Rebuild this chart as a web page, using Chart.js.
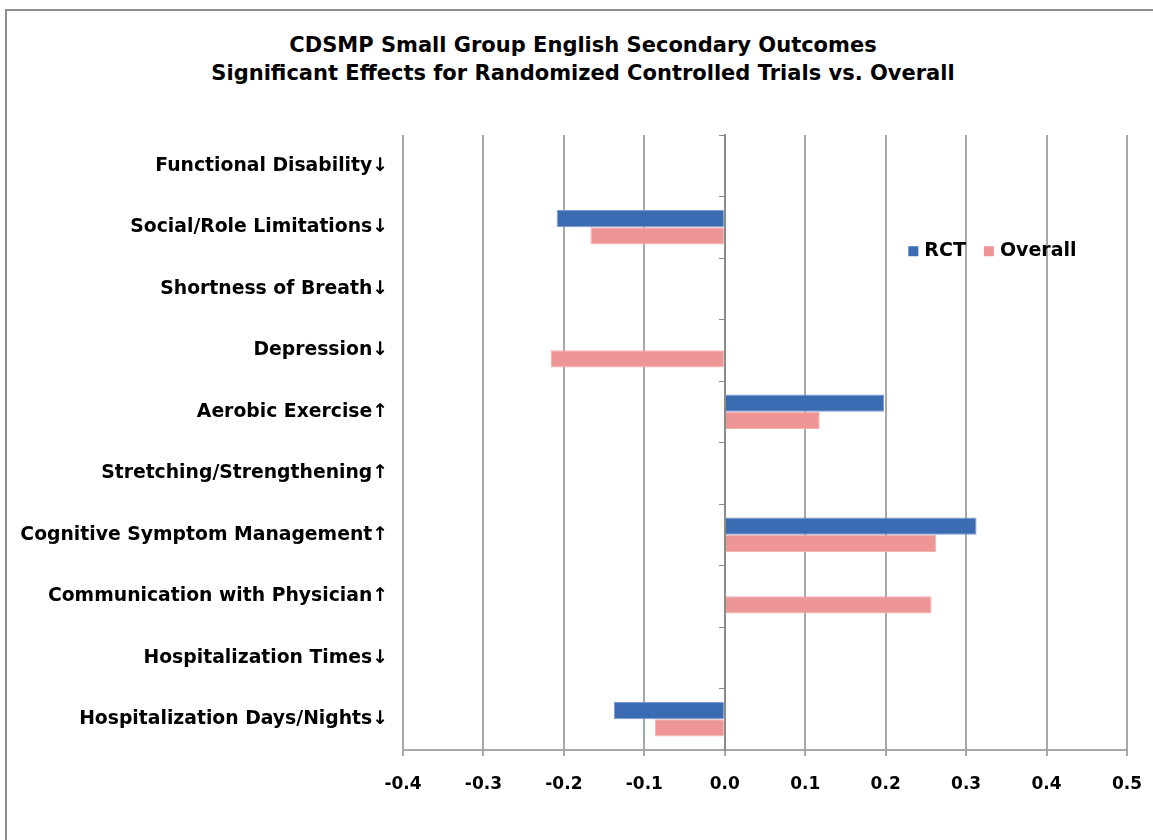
<!DOCTYPE html>
<html>
<head>
<meta charset="utf-8">
<script src="https://cdn.jsdelivr.net/npm/chart.js@4"></script>
<style>
	body { margin: 0; background: #fff; }
	#wrap { position: relative; width: 1153px; height: 840px; overflow: hidden; }
	#frame {
		position: absolute; left: 5px; top: 9px; width: 1200px; height: 900px;
		border-left: 2px solid #8c8c8c; border-top: 2px solid #8c8c8c;
	}
	#title {
		position: absolute; left: 0; top: 31px; width: 1166px;
		text-align: center; font: bold 21px/28px 'DejaVu Sans', sans-serif; color: #000;
		white-space: nowrap;
	}
	canvas { position: absolute; left: 0; top: 0; }
</style>
</head>
<body>
<div id="wrap">
	<div id="frame"></div>
	<div id="title">CDSMP Small Group English Secondary Outcomes<br>Significant Effects for Randomized Controlled Trials vs. Overall</div>
	<canvas id="chart" width="1153" height="840"></canvas>
</div>
<script>
// Outcomes, top to bottom as in the chart
const categories = [
	"Functional Disability\u2193",
	"Social/Role Limitations\u2193",
	"Shortness of Breath\u2193",
	"Depression\u2193",
	"Aerobic Exercise\u2191",
	"Stretching/Strengthening\u2191",
	"Cognitive Symptom Management\u2191",
	"Communication with Physician\u2191",
	"Hospitalization Times\u2193",
	"Hospitalization Days/Nights\u2193",
];

// Effect sizes (null = not significant)
const rctValues = [null, -0.209, null, null, 0.198, null, 0.313, null, null, -0.138];
const overallValues = [null, -0.167, null, -0.216, 0.118, null, 0.263, 0.257, null, -0.087];

const xTicks = [-0.4, -0.3, -0.2, -0.1, 0.0, 0.1, 0.2, 0.3, 0.4, 0.5];

const FONT = "'DejaVu Sans', sans-serif";
const GRID = "#a8a8a8";

// Legend drawn inside the plot area, like the original
const insideLegend = {
	id: "insideLegend",
	afterDraw(chart) {
		const { ctx, chartArea } = chart;
		let x = chartArea.left + chartArea.width * 0.698;
		const y = chartArea.top + chartArea.height * 0.189;
		ctx.save();
		ctx.font = "bold 19px " + FONT;
		ctx.textBaseline = "middle";
		chart.data.datasets.forEach((ds) => {
			ctx.fillStyle = ds.backgroundColor;
			ctx.fillRect(x, y - 5, 10, 10);
			ctx.fillStyle = "#000";
			ctx.fillText(ds.label, x + 16, y);
			x += 16 + ctx.measureText(ds.label).width + 18;
		});
		ctx.restore();
	},
};

new Chart(document.getElementById("chart"), {
	type: "bar",
	data: {
		labels: categories,
		datasets: [
			{
				label: "RCT",
				data: rctValues,
				backgroundColor: "#3a6bb3",
				borderColor: "#7b9bd0",
				borderWidth: 1,
			},
			{
				label: "Overall",
				data: overallValues,
				backgroundColor: "#ee9596",
				borderColor: "#f3b0b0",
				borderWidth: 1,
			},
		],
	},
	options: {
		indexAxis: "y",
		responsive: false,
		animation: false,
		datasets: {
			bar: { categoryPercentage: 0.56, barPercentage: 1.0 },
		},
		layout: { padding: { left: 0, right: 26, top: 135, bottom: 0 } },
		plugins: {
			legend: { display: false },
			tooltip: { enabled: false },
			title: { display: false },
		},
		scales: {
			x: {
				min: xTicks[0],
				max: xTicks[xTicks.length - 1],
				afterBuildTicks: (s) => {
					s.ticks = xTicks.map((v) => ({ value: v }));
				},
				afterFit: (s) => {
					s.height = 90;
					s.paddingLeft = 0;
					s.paddingRight = 0;
				},
				grid: { color: GRID, lineWidth: 2, tickLength: 6 },
				border: { color: GRID, width: 2 },
				ticks: {
					color: "#000",
					font: { family: FONT, size: 17, weight: "bold" },
					padding: 18,
					maxRotation: 0,
					callback: (v) => Number(v).toFixed(1),
				},
			},
			y: {
				afterFit: (s) => {
					s.width = 403;
				},
				grid: { display: false, drawTicks: false },
				border: { display: false },
				ticks: {
					color: "#000",
					font: { family: FONT, size: 18.8, weight: "bold" },
					padding: 15,
				},
			},
			// category axis sitting on the zero line, with its tick marks
			y0: {
				type: "category",
				axis: "y",
				position: { x: 0 },
				offset: true,
				afterFit: (s) => {
					s.width = 0;
				},
				grid: { drawOnChartArea: false, offset: true, tickLength: 5, color: "#8a8a8a" },
				border: { color: "#8a8a8a", width: 2 },
				ticks: { display: false },
			},
		},
	},
	plugins: [insideLegend],
});
</script>
</body>
</html>
